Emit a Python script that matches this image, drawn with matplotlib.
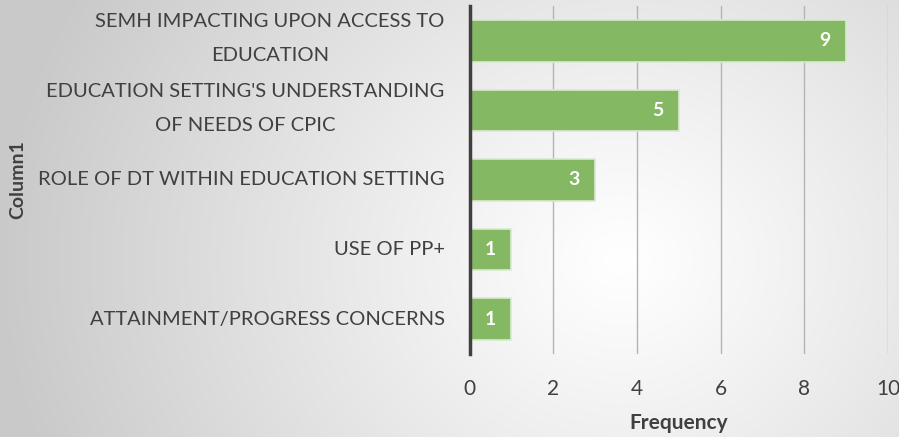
import numpy as np
import matplotlib
matplotlib.use("Agg")
import matplotlib.pyplot as plt

categories = ["ATTAINMENT/PROGRESS CONCERNS", "USE OF PP+",
              "ROLE OF DT WITHIN EDUCATION SETTING",
              "EDUCATION SETTING'S UNDERSTANDING\nOF NEEDS OF CPIC",
              "SEMH IMPACTING UPON ACCESS TO\nEDUCATION"]
values = [1, 1, 3, 5, 9]
x_ticks = [0, 2, 4, 6, 8, 10]

plt.rcParams['font.family'] = ['Lato', 'DejaVu Sans']
TXT = '#404040'

fig = plt.figure(figsize=(8.99, 4.37), dpi=100)

# radial gradient background
bg = fig.add_axes([0, 0, 1, 1], zorder=-10)
H, W = 437, 899
yy, xx = np.mgrid[0:H, 0:W]
cx, cy = 620, 260
r = np.sqrt(((xx - cx) / 1.0) ** 2 + ((yy - cy) / 0.9) ** 2)
t = np.clip(r / 620, 0, 1)
g = 1.0 - 0.21 * t ** 1.1
img = np.dstack([g, g, g])
bg.imshow(img, aspect='auto', extent=[0, 1, 0, 1], origin='upper')
bg.axis('off')

ax = fig.add_axes([469.5 / W, 1 - 354 / H, (888 - 469.5) / W, (354 - 6) / H])
ax.patch.set_alpha(0)
y = np.arange(len(categories))
bars = ax.barh(y, values, height=0.6, color='#84b862', edgecolor='#d8ead0',
               linewidth=1.2, zorder=3)
for b, v in zip(bars, values):
    ax.text(v - 0.5, b.get_y() + b.get_height() / 2, str(v), ha='center',
            va='center', color='white', fontsize=14, fontweight='bold', zorder=4)

ax.set_xlim(0, 10)
ax.set_ylim(-0.5, 4.5)
ax.set_xticks(x_ticks)
ax.set_yticks(y)
ax.set_yticklabels([])
for yi, lab in zip(y, categories):
    dy = 1.5 if '\n' in lab else 0
    ax.annotate(lab, xy=(0, yi), xycoords=('axes fraction', 'data'),
                xytext=(-18, dy), textcoords='offset points', ha='right',
                va='center', multialignment='center', linespacing=2.2,
                fontsize=14.5, color=TXT)
ax.tick_params(axis='y', length=0)
ax.tick_params(axis='x', length=0, pad=18, labelsize=15, labelcolor=TXT)
ax.grid(axis='x', color='#b4b4b4', linewidth=1, zorder=0)
for s in ['top', 'right', 'bottom']:
    ax.spines[s].set_visible(False)
ax.spines['left'].set_color('#404040')
ax.spines['left'].set_linewidth(2.5)
ax.spines['left'].set_zorder(5)

ax.set_xlabel('Frequency', fontsize=15, fontweight='bold', color=TXT, labelpad=10)
fig.text(18 / W, 1 - 180 / H, 'Column1', rotation=90, ha='center', va='center',
         fontsize=14, fontweight='bold', color=TXT)

fig.savefig('out.png', dpi=100)
